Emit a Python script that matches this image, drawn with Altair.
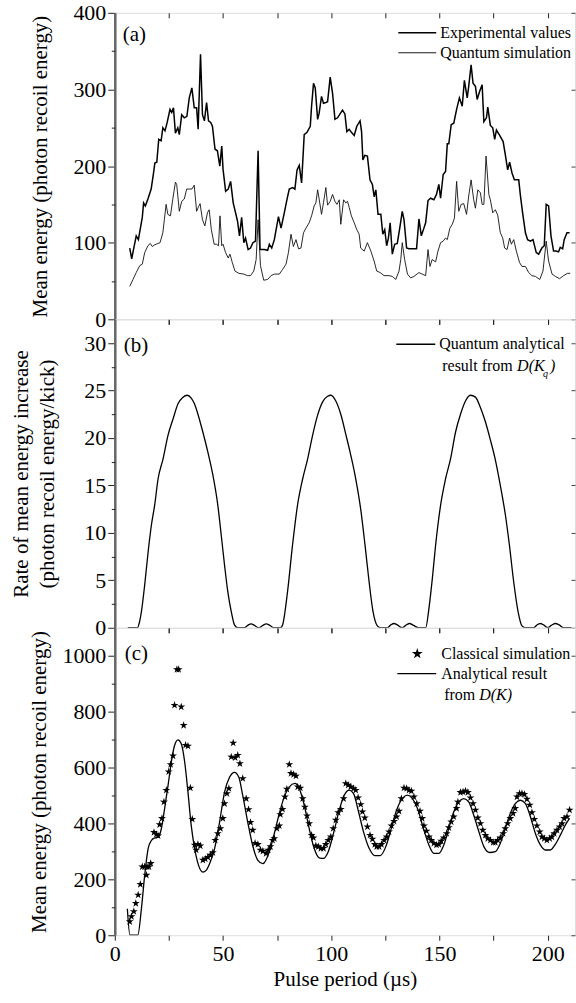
import altair as alt
import pandas as pd

FONT = "Liberation Serif"
X_DOMAIN = [0, 212.6]
W = 461

x_ticks = [0, 25, 50, 75, 100, 125, 150, 175, 200]

a_major = [0, 100, 200, 300, 400]
a_minor = [50, 150, 250, 350]
b_major = [0, 5, 10, 15, 20, 25, 30]
b_minor = [2.5, 7.5, 12.5, 17.5, 22.5, 27.5]
c_major = [0, 200, 400, 600, 800, 1000]
c_minor = [100, 300, 500, 700, 900]

# (a) experimental values (pulse period, mean energy)
exp_pts = [(6.9,93),(7.8,79),(9.9,109),(10.9,104),(12.7,133),(13.3,152),(14.1,148),(15.3,157),(16.8,170),(17.9,191),(18.5,204),(19.4,205),(20.3,235),(21.4,233),(22.2,250),(23.2,246),(24.2,257),(25.5,274),(26.3,270),(27.1,276),(28.0,243),(29.1,250),(29.8,241),(30.9,267),(32.1,263),(33.3,265),(34.4,289),(35.6,302),(36.7,276),(37.8,276),(38.5,248),(39.6,346),(40.5,267),(41.4,259),(42.4,283),(43.3,259),(44.3,257),(45.1,252),(46.3,222),(47.4,220),(48.5,200),(49.4,226),(50.0,196),(51.2,167),(52.4,170),(53.5,180),(54.7,152),(55.8,139),(56.7,128),(57.6,109),(58.6,133),(59.6,100),(60.4,106),(61.6,91),(62.7,93),(63.8,100),(65.0,102),(66.2,220),(67.1,91),(68.3,91),
(69.1,91),(70.6,90),(71.4,98),(72.5,93),(73.7,104),(75.6,134),(76.8,119),(78.3,139),(79.5,156),(80.6,170),(82.2,172),(83.2,170),(84.2,195),(85.2,201),(86.3,178),(87.5,241),(88.8,244),(90.3,252),(90.9,278),(91.8,308),(92.6,302),(93.7,261),(94.4,269),(95.5,291),(96.4,282),(97.5,283),(98.3,284),(99.5,316),(100.6,295),(101.7,261),(102.9,263),(105.2,273),(106.3,268),(107.2,245),(108.3,248),(109.3,244),(110.6,240),(111.8,252),(113.3,259),(114.0,245),(114.6,208),(115.5,214),(116.7,213),(117.9,182),(119.0,176),(119.8,160),(120.6,169),(121.6,137),(122.9,137),(123.8,111),(124.7,117),(125.6,96),(126.4,106),(127.2,126),(128.2,85),(129.3,98),(130.5,99),(131.8,122),(132.8,141),(133.6,130),(134.8,93),(135.9,92),(137.5,92),
(139.4,92),(140.5,131),(141.6,109),(142.8,119),(143.6,126),(144.7,155),(145.9,158),(147.4,156),(148.6,163),(149.7,176),(150.5,158),(151.7,189),(152.8,193),(153.6,229),(154.3,229),(155.4,254),(156.6,256),(157.9,274),(159.2,289),(160.5,278),(161.5,312),(162.8,289),(163.5,304),(164.6,332),(165.5,308),(166.6,304),(167.4,287),(168.6,298),(169.7,306),(170.5,258),(171.7,263),(172.3,277),(173.5,253),(174.6,250),(175.5,235),(176.3,247),(177.8,240),(179.4,232),(180.4,215),(181.5,195),(182.4,205),(183.5,191),(184.6,182),(186.6,182),(187.4,161),(188.4,139),(189.7,113),(190.7,104),(192.0,102),(193.2,104),(194.7,87),(195.8,85),(197.3,93),(198.4,96),(199.3,150),(200.4,148),(201.5,109),(202.7,89),(203.9,89),(205.0,88),(205.8,94),(206.9,92),(207.6,104),(208.9,113),(210.1,113)]

# (a) quantum simulation
quant_pts = [(6.9,43),(8.4,52),(9.9,61),(11.5,70),(12.7,72),(13.8,87),(15.3,96),(16.4,99),(17.3,95),(18.3,97),(19.9,99),(20.9,100),(22.2,113),(22.9,130),(23.7,150),(24.5,137),(25.7,135),(26.8,157),(28.0,179),(28.6,176),(29.8,141),(30.9,154),(32.1,157),(33.2,170),(34.4,170),(35.6,170),(36.7,175),(37.8,141),(38.7,147),(39.4,151),(40.5,130),(41.6,122),(42.8,139),(43.6,143),(44.6,117),(45.9,98),(46.9,98),(47.9,96),(48.6,135),(49.4,96),(50.0,98),(51.2,87),(52.4,80),(53.2,85),(54.3,74),(55.5,63),(57.3,60),(59.6,59),(61.2,57),(62.7,57),(64.2,63),(65.3,78),(66.2,130),(67.3,70),(68.8,51),
(70.6,52),(72.2,57),(73.7,59),(76.0,59),(77.5,65),(79.1,72),(80.2,87),(81.4,111),(82.5,95),(83.7,104),(84.9,92),(86.0,93),(87.2,113),(88.3,119),(89.8,126),(90.9,135),(92.1,148),(92.9,152),(93.7,169),(94.4,157),(95.5,137),(96.4,152),(97.5,172),(98.3,149),(99.5,154),(100.6,163),(101.7,154),(102.6,150),(103.7,156),(104.4,124),(105.7,156),(106.7,152),(107.5,154),(108.3,146),(109.3,135),(110.6,126),(111.8,117),(112.9,111),(113.6,93),(115.2,89),(116.7,100),(118.3,89),(119.8,76),(121.0,63),(122.6,61),(124.4,57),(126.7,57),(128.2,56),(129.8,52),(131.3,63),(132.1,78),(132.8,100),(133.9,78),(135.2,59),(136.7,54),(138.2,56),
(140.5,61),(142.0,59),(143.6,57),(144.7,91),(145.6,69),(146.6,78),(148.2,75),(149.3,89),(150.5,100),(151.7,102),(152.8,106),(153.6,104),(154.8,119),(155.9,124),(156.9,132),(157.9,180),(158.9,141),(160.0,150),(161.2,151),(162.5,137),(163.5,161),(164.6,182),(165.8,156),(166.6,145),(167.7,169),(168.9,165),(169.7,150),(170.5,150),(171.5,213),(172.8,163),(173.5,156),(174.6,139),(175.8,143),(176.9,136),(178.1,113),(179.2,106),(180.1,93),(181.2,91),(182.4,106),(183.2,98),(184.3,104),(185.5,89),(187.0,74),(188.1,69),(189.7,69),(191.2,61),(192.7,57),(194.3,56),(196.3,52),(197.8,63),(199.3,102),(200.4,76),(202.0,59),(203.5,56),(205.5,53),(207.3,57),(209.2,60),(210.4,60)]

# (b) quantum analytical rate from D(Kq)
rate_pts = [(6.0,0),(10.5,0),(11.3,0.5),(12.3,1.7),(13.8,4.5),(15.4,8.0),(16.9,10.8),(18.4,12.9),(20.0,15.7),(22.3,17.8),(24.6,20.3),(26.9,22.0),(29.2,23.6),(31.5,24.3),(33.5,24.5),(35.3,24.2),(36.8,23.6),(38.4,22.5),(40.7,20.6),(43.0,18.5),(45.3,16.1),(47.6,12.9),(49.2,9.7),(50.7,6.6),(52.2,3.8),(53.8,1.7),(55.3,0.3),(56.8,0),
(59.9,0),(61.4,0.25),(63.0,0.4),(64.5,0.25),(66.5,0),(68.4,0.25),(70.0,0.4),(71.6,0.25),(73.5,0),
(76.5,0),(77.5,0.3),(79.8,3.8),(82.1,8.7),(84.4,12.9),(86.8,15.7),(89.1,17.8),(91.4,20.3),(93.7,22.4),(96.0,23.8),(98.3,24.4),(99.8,24.5),(102.1,23.9),(104.4,22.5),(106.7,20.4),(109.0,18.2),(111.3,15.7),(113.6,12.5),(115.6,8.7),(117.5,4.8),(119.3,1.7),(121.3,0.2),(122.8,0),
(125.9,0),(127.5,0.3),(129.0,0.45),(130.5,0.3),(132.8,0),(134.4,0.25),(136.2,0.45),(138.0,0.25),(140.5,0),
(143.6,0),(145.1,2.0),(146.7,5.2),(148.2,8.7),(150.5,12.9),(152.8,15.7),(155.1,17.8),(157.4,20.6),(159.7,22.5),(162.0,23.9),(164.3,24.5),(166.6,24.3),(168.9,23.2),(171.2,21.7),(173.5,19.8),(175.8,17.7),(178.1,15.0),(180.5,11.8),(182.3,8.7),(184.3,4.8),(186.3,1.7),(188.1,0.2),(189.7,0),
(193.5,0),(195.0,0.3),(196.6,0.45),(198.1,0.3),(200.1,0),(201.6,0.25),(203.5,0.45),(205.3,0.3),(207.3,0),(211.0,0)]

# (c) classical simulation (stars)
cls_pts = [(6.9,49),(7.7,67),(8.8,85),(9.7,114),(10.8,144),(11.8,182),(12.7,245),(13.8,245),(14.6,215),(14.9,245),(15.8,245),(16.6,257),(18.1,368),(19.2,361),(20.0,356),(20.7,396),(21.8,418),(22.7,477),(23.8,519),(24.9,585),(25.8,611),(26.9,642),(27.6,823),(28.7,951),(29.5,951),(30.7,817),(31.8,751),(32.7,680),(33.8,677),(34.9,527),(35.8,415),(36.9,323),(37.6,305),(38.4,325),(39.5,320),(40.7,269),(41.8,273),(43.0,279),(44.1,287),(45.3,296),(46.4,340),(47.6,364),(48.8,382),(49.9,418),(50.7,471),(51.8,507),(52.7,525),(53.8,638),(54.7,688),(55.6,635),(56.8,644),(57.8,614),(59.1,561),(60.7,489),(61.8,450),(62.7,404),(63.7,376),(64.8,329),(66.1,325),(67.3,305),(68.4,301),
(69.9,293),(70.9,305),(71.9,317),(72.9,340),(73.7,346),(74.9,382),(76.0,392),(76.5,432),(77.5,451),(78.6,495),(79.5,523),(80.6,611),(81.4,579),(82.6,575),(83.7,570),(84.5,531),(85.7,527),(86.8,489),(87.8,459),(88.8,427),(89.8,400),(90.9,358),(91.8,349),(92.9,320),(94.0,317),(95.2,311),(96.4,311),(97.5,325),(98.6,340),(99.8,352),(100.9,382),(102.1,412),(103.2,439),(104.4,451),(105.7,489),(106.7,543),(107.8,537),(109.0,531),(110.3,525),(111.3,519),(112.4,492),(113.6,468),(114.4,442),(115.5,420),(116.7,388),(117.9,358),(119.0,344),(120.1,325),(121.0,317),(122.1,317),(123.2,325),(124.4,340),(125.6,352),(126.7,370),(127.8,392),(129.0,408),(130.2,424),(131.3,444),(132.4,489),(133.6,527),(134.8,525),(135.9,519),(137.0,516),(138.2,495),(139.5,471),
(141.0,444),(142.0,418),(142.8,392),(144.0,373),(145.1,352),(146.2,340),(147.4,329),(148.6,323),(149.7,325),(150.8,337),(152.0,349),(153.3,364),(154.3,385),(155.4,406),(156.6,424),(157.9,454),(158.5,477),(159.7,511),(160.9,513),(162.0,516),(163.1,511),(164.3,492),(165.5,471),(166.6,448),(167.7,420),(168.9,400),(170.0,376),(171.2,358),(172.3,346),(173.5,340),(174.8,332),(175.8,332),(176.9,340),(178.1,349),(179.4,364),(180.4,382),(181.5,400),(182.7,418),(184.0,436),(185.0,454),(185.8,495),(187.0,507),(188.1,507),(189.2,504),(190.4,487),(191.7,466),(192.7,439),(193.8,415),(195.0,392),(196.3,370),(197.3,352),(198.4,346),(199.6,340),(200.9,346),(201.9,352),(203.0,364),(204.3,376),(205.5,388),(206.6,400),(207.6,418),(208.9,424),(210.1,448)]

# (c) analytical result from D(K)
ana_pts = [(5.8,95),(7.0,0),(10.6,0),(12.3,95),(13.8,214),(15.4,310),(16.9,339),(18.4,348),(20.0,351),(21.5,381),(23.0,452),(24.6,536),(26.1,619),(27.6,679),(29.2,699),(30.7,685),(32.3,619),(33.8,512),(35.3,393),(36.9,310),(38.7,250),(40.7,226),(42.2,232),(44.1,262),(46.1,310),(48.4,405),(50.7,512),(53.0,565),(55.3,583),(57.3,565),(59.1,500),(61.4,405),(63.7,321),(66.1,268),(68.4,256),
(71.4,299),(73.7,364),(76.0,436),(78.3,495),(80.6,531),(83.2,543),(85.2,525),(87.5,466),(89.8,382),(92.1,311),(94.4,277),(96.4,275),(98.6,299),(101.4,376),(103.7,448),(106.0,501),(108.3,519),(110.3,507),(112.4,448),(114.9,370),(117.5,311),(120.1,285),(122.6,285),(125.2,317),(127.5,376),(130.2,448),(132.8,489),(135.2,501),(137.5,489),(139.8,454),
(142.8,376),(145.1,323),(147.4,293),(149.7,293),(152.0,323),(154.3,382),(156.6,442),(158.9,477),(161.2,489),(163.5,477),(165.8,430),(168.2,370),(170.5,317),(173.2,296),(175.8,299),(178.1,329),(180.4,382),(182.7,436),(185.0,471),(187.4,483),(189.7,471),(192.0,424),(194.3,364),(196.6,323),(198.9,305),(201.2,305),(203.5,325),(205.8,358),(208.1,394),(210.1,418)]

STAR = "M0,-1L0.223,-0.307L0.951,-0.309L0.361,0.117L0.588,0.809L0,0.38L-0.588,0.809L-0.361,0.117L-0.951,-0.309L-0.223,-0.307Z"


def frame(pts):
    return pd.DataFrame(pts, columns=["x", "y"])


def x_bottom(labels=False):
    kw = dict(orient="bottom", values=x_ticks, tickSize=5, tickColor="#222",
              tickWidth=1, domain=False, grid=False, labels=labels)
    if labels:
        kw.update(labelExpr="datum.value % 50 == 0 ? datum.label : ''",
                  labelFont=FONT, labelFontSize=22, labelColor="black",
                  labelPadding=3, labelFlush=False,
                  title="Pulse period (µs)", titleFont=FONT, titleFontSize=21,
                  titleFontWeight="normal", titleColor="black", titlePadding=4)
    else:
        kw.update(title=None)
    return alt.Axis(**kw)


def x_top():
    return alt.Axis(orient="top", offset=-5, values=x_ticks, tickSize=5,
                    tickColor="#222", tickWidth=1, labels=False, domain=False,
                    grid=False, title=None)


def y_left(values, title, pad):
    return alt.Axis(orient="left", values=values, format="d", tickSize=7,
                    tickColor="#222", tickWidth=1, labelFont=FONT,
                    labelFontSize=22, labelColor="black", labelPadding=2,
                    labelFlush=False, labelOverlap=False, domain=True,
                    domainColor="#666", domainWidth=2.5, grid=False,
                    title=title, titleFont=FONT, titleFontSize=21,
                    titleFontWeight="normal", titleColor="black",
                    titlePadding=pad, titleLineHeight=26)


def y_minor(values):
    return alt.Axis(orient="left", values=values, tickSize=3.5, tickColor="#222",
                    tickWidth=1, labels=False, domain=False, grid=False, title=None)


def y_right(values):
    return alt.Axis(orient="right", offset=-4, values=values, tickSize=4,
                    tickColor="#444", tickWidth=1, labels=False, domain=False,
                    grid=False, title=None)


def xq(axis):
    return alt.X("x:Q", scale=alt.Scale(domain=X_DOMAIN, nice=False, zero=False), axis=axis)


def yq(dom, axis):
    return alt.Y("y:Q", scale=alt.Scale(domain=dom, nice=False, zero=False), axis=axis)


ONE = alt.Data(values=[{"k": 1}])


def note(text, x, y, size=16, style="normal"):
    return alt.Chart(ONE).mark_text(text=text, align="left", baseline="middle",
                                    font=FONT, fontSize=size, fontStyle=style,
                                    color="black").encode(x=alt.value(x), y=alt.value(y))


def key_line(x1, x2, y, width):
    return alt.Chart(ONE).mark_rule(color="black", strokeWidth=width).encode(
        x=alt.value(x1), x2=alt.value(x2), y=alt.value(y))


# ---------- panel (a)
dfe = frame(exp_pts)
dfq = frame(quant_pts)
A_DOM = [0, 400]
a1 = alt.Chart(dfe).mark_line(color="black", strokeWidth=1.5, clip=True).encode(
    x=xq(x_bottom()), y=yq(A_DOM, y_left(a_major, "Mean energy (photon recoil energy)", 22)))
a2 = alt.Chart(dfq).mark_line(color="#111", strokeWidth=0.9, clip=True).encode(
    x=xq(x_top()), y=yq(A_DOM, y_minor(a_minor)))
a3 = alt.Chart(dfe).mark_line(opacity=0).encode(x=xq(None), y=yq(A_DOM, y_right(a_major)))
panel_a = alt.layer(
    a1, a2, a3,
    note("(a)", 8, 22, 21),
    key_line(284, 322, 20, 1.6), note("Experimental values", 326, 20),
    key_line(284, 322, 40, 0.9), note("Quantum simulation", 326, 40),
).resolve_axis(x="independent", y="independent").properties(width=W, height=307)

# ---------- panel (b)
dfr = frame(rate_pts)
B_DOM = [0, 32.5]
b1 = alt.Chart(dfr).mark_line(color="black", strokeWidth=1.3, interpolate="monotone", clip=True).encode(
    x=xq(x_bottom()),
    y=yq(B_DOM, y_left(b_major, ["Rate of mean energy increase", "(photon recoil energy/kick)"], 26)))
b2 = alt.Chart(dfr).mark_line(opacity=0).encode(x=xq(x_top()), y=yq(B_DOM, y_minor(b_minor)))
b3 = alt.Chart(dfr).mark_line(opacity=0).encode(x=xq(None), y=yq(B_DOM, y_right(b_major)))
panel_b = alt.layer(
    b1, b2, b3,
    note("(b)", 9, 27, 21),
    key_line(282, 321, 25, 1.3), note("Quantum analytical", 325, 25),
    note("result from ", 328, 47), note("D(K", 403, 47, 16, "italic"),
    note("q", 429, 55, 10, "italic"), note(")", 436, 47, 16, "italic"),
).resolve_axis(x="independent", y="independent").properties(width=W, height=309)

# ---------- panel (c)
dfa = frame(ana_pts)
dfc = frame(cls_pts)
C_DOM = [0, 1100]
c1 = alt.Chart(dfa).mark_line(color="black", strokeWidth=1.3, interpolate="monotone", clip=True).encode(
    x=xq(x_bottom(labels=True)),
    y=yq(C_DOM, y_left(c_major, "Mean energy (photon recoil energy)", 12)))
c2 = alt.Chart(dfc).mark_point(shape=STAR, filled=True, size=70, color="black", opacity=1, clip=True).encode(
    x=xq(x_top()), y=yq(C_DOM, y_minor(c_minor)))
c3 = alt.Chart(dfa).mark_line(opacity=0).encode(x=xq(None), y=yq(C_DOM, y_right(c_major)))
star_key = alt.Chart(ONE).mark_point(shape=STAR, filled=True, size=130, color="black", opacity=1).encode(
    x=alt.value(303), y=alt.value(26))
panel_c = alt.layer(
    c1, c2, c3,
    note("(c)", 10, 26, 21),
    star_key, note("Classical simulation", 327, 26),
    key_line(283, 322, 46, 1.3), note("Analytical result", 327, 46),
    note("from ", 330, 67), note("D(K)", 365, 67, 16, "italic"),
).resolve_axis(x="independent", y="independent").properties(width=W, height=308)

chart = alt.vconcat(panel_a, panel_b, panel_c, spacing=0, bounds="flush").properties(
    padding={"left": 10, "top": 0, "right": 0, "bottom": 2}
).configure_view(stroke="#444", strokeWidth=1.5).configure_axis(
    labelFont=FONT, titleFont=FONT
).configure_text(font=FONT).configure(background="white")

chart.save("out.html", embed_options={"renderer": "svg", "actions": False})
